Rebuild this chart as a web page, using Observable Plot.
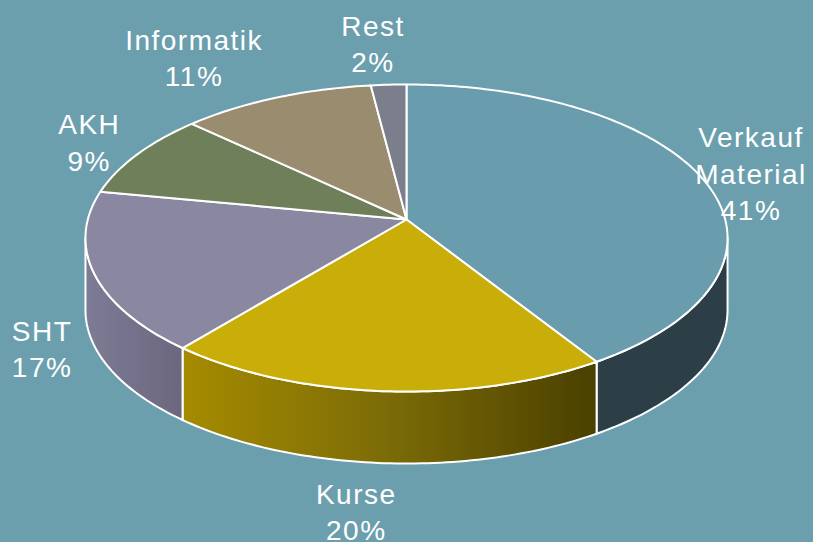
<!DOCTYPE html>
<html>
<head>
<meta charset="utf-8">
<script src="https://cdn.jsdelivr.net/npm/d3@7"></script>
<script src="https://cdn.jsdelivr.net/npm/@observablehq/plot@0.6"></script>
<style>
  html, body { margin: 0; padding: 0; background: #6b9fae; overflow: hidden; }
  #chart svg text { letter-spacing: 1.5px; }
</style>
</head>
<body>
<div id="chart"></div>
<script>
// ---- data ----
const categories = ["Verkauf\nMaterial", "Kurse", "SHT", "AKH", "Informatik", "Rest"];
const shares = [41, 20, 17, 9, 11, 2];

// ---- styling ----
const topColors = ["#699cac", "#c9ae09", "#8a87a1", "#6f7f59", "#9a8d6f", "#7b7e8b"];
const sideFills = ["#2c3f47", "url(#g-kurse)", "url(#g-sht)", "#5a6848", "#7d7258", "#62656f"];
const labelNudge = [[0, 0], [-23, 13], [4, -7], [-5, -3], [-62, -23], [-13, -22]];

// ---- 3D pie geometry (perspective-projected disc) ----
const W = 813, H = 542;
const CX = 406, CY = 219, A = 318.7, B = 151.3, P = 0.1205, DEPTH = 72;
function proj(deg, r = 1, drop = 0) {
  const t = deg * Math.PI / 180;
  const X = r * Math.sin(t), Z = r * Math.cos(t);
  const d = 1 + P * Z;
  return [CX + A * X / d, CY - B * Z / d + drop];
}
function arc(a0, a1, r, drop) {
  const n = Math.max(2, Math.ceil(Math.abs(a1 - a0)));
  return d3.range(n + 1).map(k => proj(a0 + (a1 - a0) * k / n, r, drop));
}
const total = d3.sum(shares);
let acc = 0;
const slices = shares.map((v, i) => {
  const s = acc / total * 360; acc += v; const e = acc / total * 360;
  return {i, name: categories[i], v, s, e, mid: (s + e) / 2};
});
const phiR = Math.acos(-P) * 180 / Math.PI; // right silhouette
const phiL = 360 - phiR;                    // left silhouette

const marks = [];
// side walls (front half only)
for (const sl of slices) {
  const lo = Math.max(sl.s, phiR), hi = Math.min(sl.e, phiL);
  if (lo >= hi) continue;
  const pts = arc(lo, hi, 1, 0).concat(arc(hi, lo, 1, DEPTH));
  marks.push(Plot.line(pts, {x: d => d[0], y: d => d[1], curve: "linear-closed",
    fill: sideFills[sl.i], stroke: "white", strokeWidth: 2, strokeLinejoin: "round"}));
}
// top faces
for (const sl of slices) {
  const pts = [proj(0, 0, 0)].concat(arc(sl.s, sl.e, 1, 0));
  marks.push(Plot.line(pts, {x: d => d[0], y: d => d[1], curve: "linear-closed",
    fill: topColors[sl.i], stroke: "white", strokeWidth: 2, strokeLinejoin: "round"}));
}
// labels
const labels = slices.map(sl => {
  const lower = Math.cos(sl.mid * Math.PI / 180) < 0;
  const [x, y] = proj(sl.mid, 1.17, lower ? DEPTH : 0);
  return {x: x + labelNudge[sl.i][0], y: y + labelNudge[sl.i][1], text: `${sl.name}\n${sl.v}%`};
});
marks.push(Plot.text(labels, {x: "x", y: "y", text: "text", fill: "white",
  fontSize: 28, fontFamily: "'Liberation Sans', Arial, sans-serif",
  lineHeight: 1.3, lineAnchor: "middle", textAnchor: "middle"}));

const svg = Plot.plot({
  width: W, height: H, margin: 0,
  x: {domain: [0, W], range: [0, W], axis: null},
  y: {domain: [0, H], range: [0, H], axis: null},
  style: {background: "#6b9fae", overflow: "visible"},
  marks
});

// gradients for shaded side walls
const defs = d3.select(svg).insert("defs", ":first-child");
function grad(id, stops) {
  const g = defs.append("linearGradient").attr("id", id)
    .attr("x1", "0").attr("y1", "0").attr("x2", "1").attr("y2", "0");
  stops.forEach(([o, c]) => g.append("stop").attr("offset", o).attr("stop-color", c));
}
grad("g-kurse", [[0, "#a58b00"], [0.5, "#7b6b07"], [1, "#4a4000"]]);
grad("g-sht", [[0, "#7e7b96"], [1, "#6b677e"]]);

document.getElementById("chart").appendChild(svg);
</script>
</body>
</html>
